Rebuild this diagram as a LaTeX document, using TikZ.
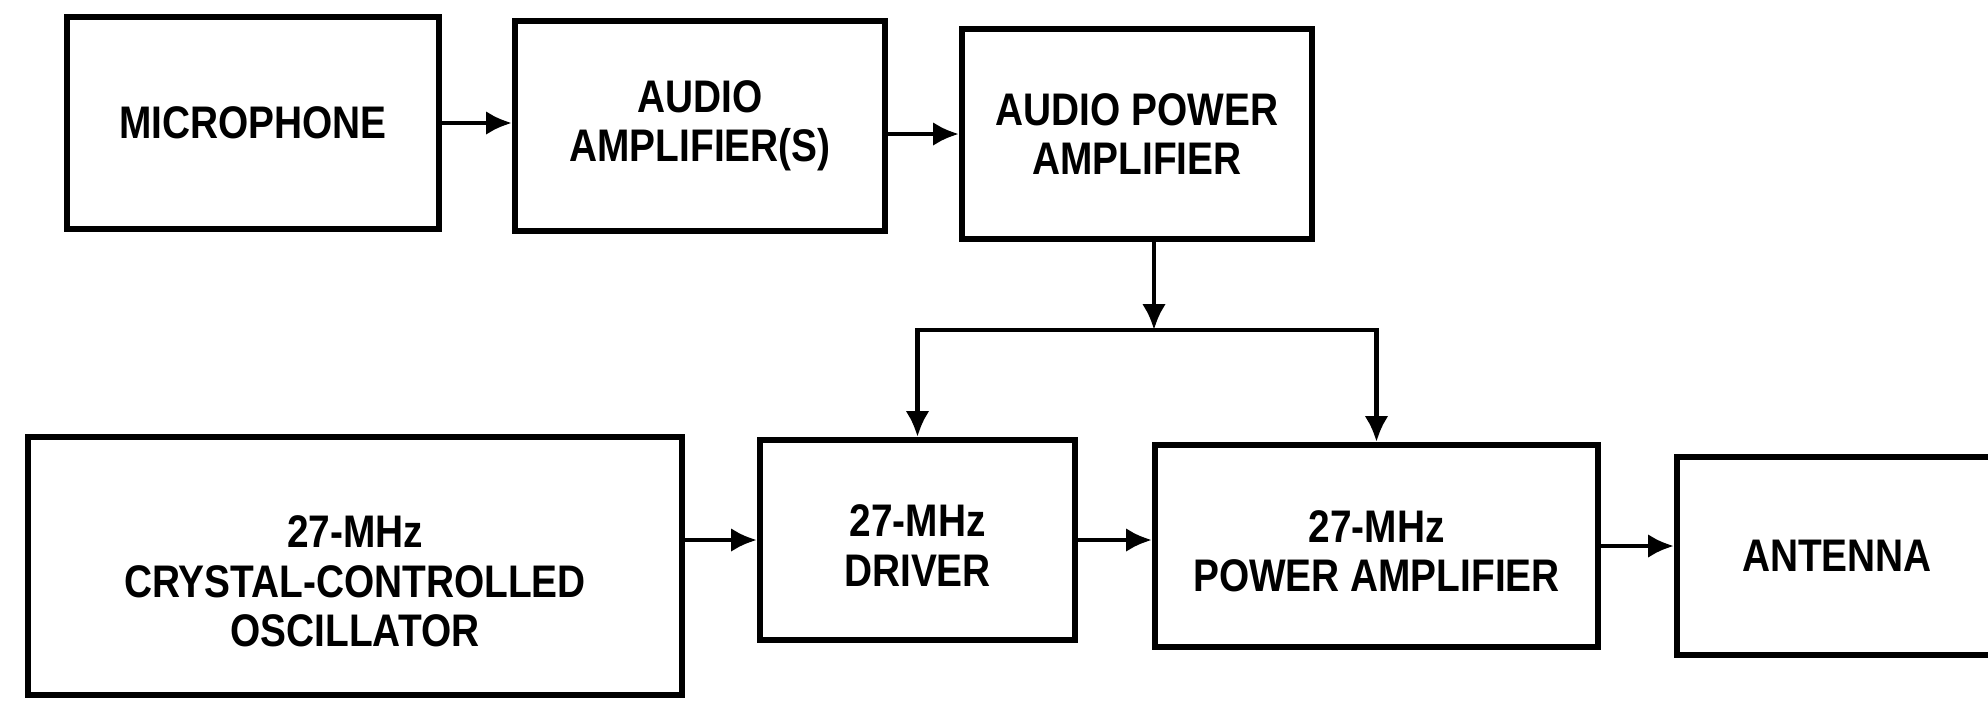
\documentclass[tikz,border=0pt]{standalone}
\usepackage{fontspec}
\usepackage{tikz}
\usetikzlibrary{arrows.meta}
\newfontfamily\blockfont{Liberation Sans}[FakeStretch=0.85]
\newcommand{\toppad}[1]{\rule{0pt}{#1}}

\begin{document}
\begin{tikzpicture}[
    block/.style={draw, line width=1.7pt, inner sep=0pt, align=center,
        font=\blockfont\bfseries\fontsize{13}{14}\selectfont},
    link/.style={line width=1.4pt, -{Latex[length=0.26cm, width=0.24cm]}}
]
    \useasboundingbox (0,0) rectangle (19.88,7.06);
    \clip (0,0) rectangle (19.88,7.06);

    % Audio chain
    \node[block, minimum width=3.72cm, minimum height=2.12cm] (mic) at (2.53, 5.83) {MICROPHONE};
    \node[block, minimum width=3.70cm, minimum height=2.10cm] (aud) at (7.00, 5.80) {AUDIO\\AMPLIFIER(S)};
    \node[block, minimum width=3.50cm, minimum height=2.10cm] (apa) at (11.37, 5.72) {AUDIO POWER\\AMPLIFIER};

    % RF chain
    \node[block, minimum width=6.54cm, minimum height=2.58cm] (osc) at (3.55, 1.40) {\toppad{17.8pt}27-MHz\\CRYSTAL-CONTROLLED\\OSCILLATOR};
    \node[block, minimum width=3.15cm, minimum height=2.00cm] (drv) at (9.175, 1.66) {\toppad{12.2pt}27-MHz\\DRIVER};
    \node[block, minimum width=4.43cm, minimum height=2.02cm] (pa) at (13.765, 1.60) {\toppad{12.2pt}27-MHz\\POWER AMPLIFIER};
    \node[block, minimum width=3.20cm, minimum height=1.98cm] (ant) at (18.37, 1.50) {ANTENNA};

    \coordinate (split) at (11.54, 3.76);

    % Connections
    \draw[link] (mic.east) -- (mic.east -| aud.west);
    \draw[link] (apa.west -| aud.east) -- (apa.west);
    \draw[link] (apa.south -| split) -- (split);
    \draw[link] (split) -| (drv.north);
    \draw[link] (split) -| (pa.north);
    \draw[link] (drv.west -| osc.east) -- (drv.west);
    \draw[link] (drv.east) -- (drv.east -| pa.west);
    \draw[link] (pa.east) -- (pa.east -| ant.west);
\end{tikzpicture}
\end{document}
